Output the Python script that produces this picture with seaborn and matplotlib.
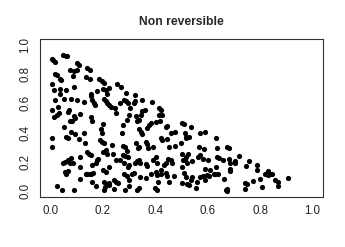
import numpy as np
import pandas as pd
import matplotlib
matplotlib.use("Agg")
import matplotlib.pyplot as plt
import seaborn as sns

# point coordinates
x = [0.004, 0.010, 0.016, 0.048, 0.058, 0.064, 0.102, 0.108, 0.139, 0.149,
     0.016, 0.025, 0.073, 0.100, 0.091, 0.085, 0.035, 0.039,
     0.137, 0.152, 0.185, 0.197, 0.203,
     0.004, 0.253, 0.269, 0.014, 0.035, 0.038, 0.060, 0.091,
     0.153, 0.155, 0.176, 0.201, 0.212, 0.225, 0.215, 0.289, 0.322,
     0.016, 0.052, 0.077, 0.101, 0.128, 0.160, 0.165, 0.168,
     0.206, 0.212, 0.217, 0.225, 0.231, 0.245, 0.265, 0.282, 0.290, 0.297, 0.305, 0.317, 0.323, 0.351, 0.389,
     0.030, 0.004, 0.067, 0.070,
     0.014, 0.023, 0.033, 0.111, 0.088, 0.092, 0.081, 0.073,
     0.154, 0.157, 0.250, 0.301, 0.326, 0.344, 0.351, 0.360, 0.339, 0.332,
     0.415, 0.421, 0.415, 0.425, 0.417, 0.402, 0.383, 0.377, 0.291, 0.278,
     0.051, 0.077, 0.092, 0.061, 0.068, 0.107, 0.128, 0.006,
     0.191, 0.197, 0.202, 0.273, 0.339, 0.345, 0.349, 0.370,
     0.440, 0.444, 0.460, 0.477, 0.501, 0.509, 0.513, 0.535, 0.516, 0.528, 0.570, 0.588,
     0.004, 0.133, 0.139, 0.146, 0.154, 0.190, 0.195, 0.204, 0.210, 0.215, 0.201, 0.233,
     0.278, 0.286, 0.292, 0.326, 0.333, 0.339, 0.364, 0.370, 0.374, 0.392,
     0.421, 0.427, 0.443, 0.453, 0.474, 0.497, 0.518, 0.501, 0.518, 0.526,
     0.566, 0.585, 0.633, 0.636, 0.674, 0.683,
     0.048, 0.057, 0.067, 0.073, 0.080, 0.084, 0.111, 0.112,
     0.182, 0.177, 0.158, 0.174, 0.202, 0.210, 0.225, 0.238, 0.250, 0.264,
     0.278, 0.286, 0.295, 0.282, 0.301, 0.294, 0.322, 0.330, 0.336, 0.343,
     0.364, 0.370, 0.390, 0.402, 0.408, 0.421, 0.434, 0.440, 0.450, 0.459, 0.465,
     0.501, 0.505, 0.515, 0.522, 0.541, 0.564, 0.572, 0.581, 0.601, 0.589, 0.610, 0.630,
     0.636, 0.642, 0.657, 0.680, 0.684, 0.687, 0.687, 0.703, 0.705, 0.721, 0.747, 0.759, 0.788, 0.789,
     0.057, 0.061, 0.066, 0.134, 0.139, 0.149, 0.155, 0.164, 0.111, 0.157,
     0.205, 0.215, 0.222, 0.241, 0.250, 0.259, 0.282, 0.292, 0.298, 0.311, 0.320,
     0.343, 0.364, 0.383, 0.402, 0.408, 0.421, 0.412, 0.440, 0.446, 0.472,
     0.501, 0.509, 0.518, 0.523, 0.535, 0.541, 0.560, 0.570, 0.581, 0.589, 0.598, 0.604,
     0.623, 0.629, 0.638, 0.661, 0.744, 0.750, 0.774, 0.800, 0.820, 0.830, 0.838, 0.847, 0.857, 0.867, 0.908, 0.832,
     0.023, 0.043, 0.091, 0.172, 0.207, 0.203, 0.225, 0.244, 0.283, 0.298, 0.330, 0.339, 0.398, 0.405,
     0.451, 0.528, 0.557, 0.670, 0.675, 0.673, 0.744, 0.806, 0.867]

y = [0.906, 0.893, 0.883, 0.930, 0.925, 0.925, 0.878, 0.860, 0.841, 0.827,
     0.800, 0.795, 0.830, 0.830, 0.818, 0.786, 0.768, 0.756,
     0.777, 0.763, 0.763, 0.754, 0.740,
     0.733, 0.730, 0.713, 0.694, 0.699, 0.667, 0.690, 0.713,
     0.665, 0.653, 0.683, 0.699, 0.694, 0.708, 0.667, 0.669, 0.660,
     0.625, 0.630, 0.630, 0.625, 0.610, 0.620, 0.600, 0.586,
     0.630, 0.618, 0.602, 0.591, 0.575, 0.568, 0.600, 0.625, 0.614, 0.602, 0.568, 0.602, 0.618, 0.625, 0.607,
     0.575, 0.556, 0.540, 0.556,
     0.510, 0.522, 0.533, 0.524, 0.515, 0.499, 0.480, 0.476,
     0.510, 0.476, 0.533, 0.522, 0.515, 0.522, 0.545, 0.556, 0.487, 0.476,
     0.568, 0.556, 0.522, 0.522, 0.476, 0.471, 0.464, 0.453, 0.487, 0.453,
     0.441, 0.407, 0.391, 0.368, 0.361, 0.354, 0.400, 0.363,
     0.423, 0.395, 0.460, 0.400, 0.425, 0.407, 0.391, 0.430,
     0.437, 0.446, 0.395, 0.407, 0.469, 0.460, 0.395, 0.437, 0.370, 0.370, 0.400, 0.407,
     0.299, 0.331, 0.269, 0.257, 0.246, 0.350, 0.338, 0.326, 0.280, 0.257, 0.269, 0.315,
     0.308, 0.299, 0.276, 0.331, 0.292, 0.303, 0.338, 0.320, 0.292, 0.303,
     0.361, 0.350, 0.354, 0.303, 0.308, 0.326, 0.361, 0.253, 0.234, 0.253,
     0.303, 0.285, 0.361, 0.292, 0.303, 0.292,
     0.191, 0.200, 0.211, 0.195, 0.228, 0.193, 0.230, 0.166,
     0.223, 0.211, 0.177, 0.190, 0.143, 0.131, 0.166, 0.257, 0.211, 0.211,
     0.246, 0.241, 0.234, 0.191, 0.177, 0.166, 0.191, 0.207, 0.211, 0.195,
     0.184, 0.170, 0.216, 0.234, 0.191, 0.143, 0.177, 0.191, 0.223, 0.216, 0.191,
     0.166, 0.211, 0.214, 0.191, 0.207, 0.234, 0.246, 0.221, 0.216, 0.154, 0.143, 0.166,
     0.234, 0.228, 0.211, 0.223, 0.191, 0.154, 0.138, 0.207, 0.193, 0.239, 0.170, 0.205, 0.177, 0.143,
     0.131, 0.120, 0.138, 0.120, 0.115, 0.115, 0.120, 0.124, 0.085, 0.062,
     0.062, 0.051, 0.055, 0.074, 0.062, 0.055, 0.120, 0.101, 0.074, 0.120, 0.124,
     0.097, 0.092, 0.120, 0.131, 0.108, 0.120, 0.062, 0.124, 0.101, 0.101,
     0.055, 0.124, 0.097, 0.051, 0.074, 0.097, 0.062, 0.097, 0.101, 0.078, 0.108, 0.101,
     0.120, 0.115, 0.120, 0.085, 0.055, 0.051, 0.067, 0.085, 0.120, 0.108, 0.115, 0.120, 0.078, 0.062, 0.092, 0.138,
     0.035, 0.011, 0.011, 0.035, 0.028, 0.009, 0.039, 0.016, 0.005, 0.037, 0.005, 0.023, 0.023, 0.011,
     0.062, 0.039, 0.023, 0.009, 0.016, 0.002, 0.014, 0.028, 0.032]

ticks = [0.0, 0.2, 0.4, 0.6, 0.8, 1.0]
tick_labels = ["0.0", "0.2", "0.4", "0.6", "0.8", "1.0"]

sns.set_style("white")
plt.rcParams['font.family'] = ['Liberation Sans', 'DejaVu Sans']

df = pd.DataFrame({"x": x, "y": y})

fig = plt.figure(figsize=(3.45, 2.47), dpi=100)
ax = fig.add_axes([0.116, 0.2024, 0.820, 0.640])

sns.scatterplot(data=df, x="x", y="y", ax=ax, color="black", s=14,
                linewidth=0, legend=False)

ax.set_xlim(-0.04, 1.04)
ax.set_ylim(-0.04, 1.04)
ax.set_xticks(ticks)
ax.set_xticklabels(tick_labels)
ax.set_yticks(ticks)
ax.set_yticklabels(tick_labels, rotation=90, va="center")
ax.set_xlabel("")
ax.set_ylabel("")

for sp in ax.spines.values():
    sp.set_visible(True)
    sp.set_color("#333333")
    sp.set_linewidth(0.8)

ax.tick_params(axis="both", length=3.6, width=0.7, color="#333333",
               labelsize=8.3, labelcolor="#222222", direction="out")
ax.tick_params(axis="x", pad=1.8)
ax.tick_params(axis="y", pad=2.5)

ax.set_title("Non reversible", fontsize=8.7, fontweight="bold", pad=10)

fig.savefig("out.png", dpi=100, facecolor="white")
